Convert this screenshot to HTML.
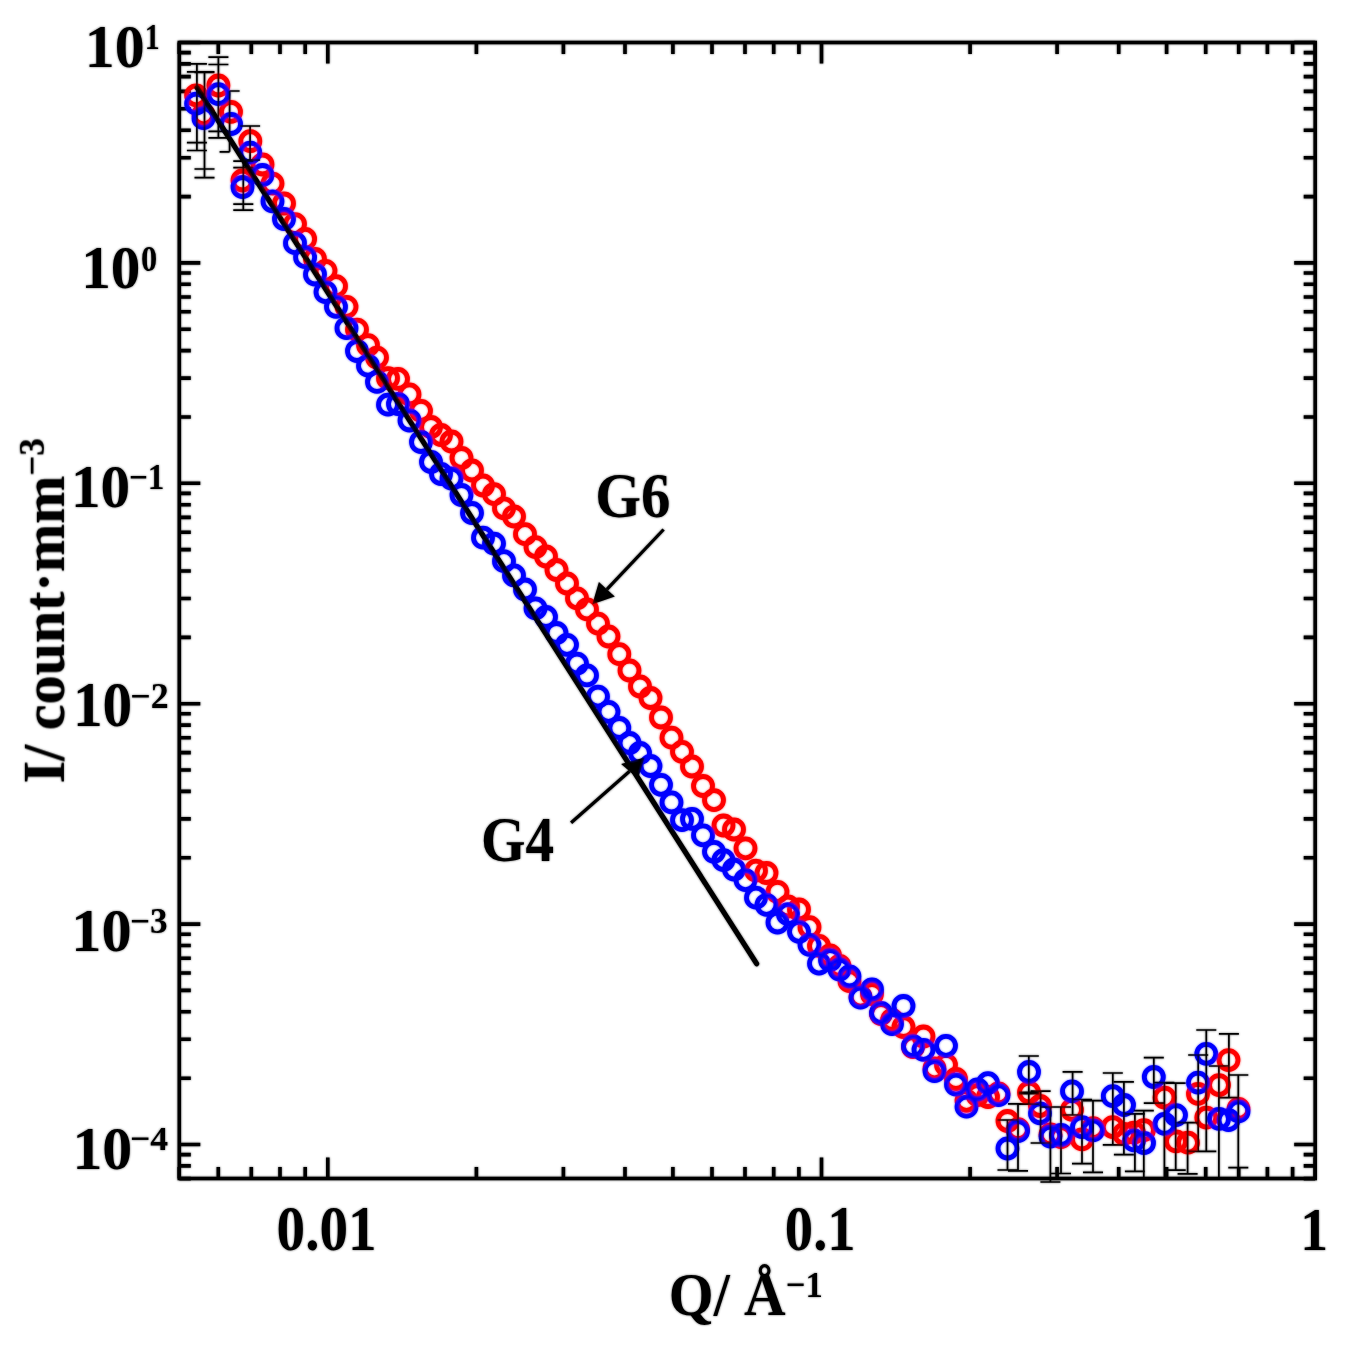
<!DOCTYPE html><html><head><meta charset="utf-8"><style>html,body{margin:0;padding:0;background:#fff;}svg{display:block;}text{font-family:"Liberation Serif",serif;font-weight:bold;}</style></head><body>
<div id="w">
<svg width="1365" height="1359" viewBox="0 0 1365 1359"><defs><filter id="bl" x="-1%" y="-1%" width="102%" height="102%"><feGaussianBlur stdDeviation="1"/></filter></defs><g id="all">
<path d="M179.2 1178.5V1167.0M179.2 42.5V54.0M218.3 1178.5V1167.0M218.3 42.5V54.0M251.3 1178.5V1167.0M251.3 42.5V54.0M280.0 1178.5V1167.0M280.0 42.5V54.0M305.2 1178.5V1167.0M305.2 42.5V54.0M327.8 1178.5V1157.5M327.8 42.5V63.5M476.4 1178.5V1167.0M476.4 42.5V54.0M563.4 1178.5V1167.0M563.4 42.5V54.0M625.0 1178.5V1167.0M625.0 42.5V54.0M672.9 1178.5V1167.0M672.9 42.5V54.0M712.0 1178.5V1167.0M712.0 42.5V54.0M745.0 1178.5V1167.0M745.0 42.5V54.0M773.7 1178.5V1167.0M773.7 42.5V54.0M798.9 1178.5V1167.0M798.9 42.5V54.0M821.5 1178.5V1157.5M821.5 42.5V63.5M970.1 1178.5V1167.0M970.1 42.5V54.0M1057.1 1178.5V1167.0M1057.1 42.5V54.0M1118.7 1178.5V1167.0M1118.7 42.5V54.0M1166.6 1178.5V1167.0M1166.6 42.5V54.0M1205.7 1178.5V1167.0M1205.7 42.5V54.0M1238.7 1178.5V1167.0M1238.7 42.5V54.0M1267.4 1178.5V1167.0M1267.4 42.5V54.0M1292.6 1178.5V1167.0M1292.6 42.5V54.0M1315.2 1178.5V1157.5M1315.2 42.5V63.5M179.3 1178.6H190.8M1315.2 1178.6H1303.7M179.3 1165.9H190.8M1315.2 1165.9H1303.7M179.3 1154.6H190.8M1315.2 1154.6H1303.7M179.3 1144.5H200.3M1315.2 1144.5H1294.2M179.3 1078.2H190.8M1315.2 1078.2H1303.7M179.3 1039.3H190.8M1315.2 1039.3H1303.7M179.3 1011.8H190.8M1315.2 1011.8H1303.7M179.3 990.4H190.8M1315.2 990.4H1303.7M179.3 973.0H190.8M1315.2 973.0H1303.7M179.3 958.2H190.8M1315.2 958.2H1303.7M179.3 945.5H190.8M1315.2 945.5H1303.7M179.3 934.2H190.8M1315.2 934.2H1303.7M179.3 924.1H200.3M1315.2 924.1H1294.2M179.3 857.8H190.8M1315.2 857.8H1303.7M179.3 818.9H190.8M1315.2 818.9H1303.7M179.3 791.4H190.8M1315.2 791.4H1303.7M179.3 770.0H190.8M1315.2 770.0H1303.7M179.3 752.6H190.8M1315.2 752.6H1303.7M179.3 737.8H190.8M1315.2 737.8H1303.7M179.3 725.1H190.8M1315.2 725.1H1303.7M179.3 713.8H190.8M1315.2 713.8H1303.7M179.3 703.7H200.3M1315.2 703.7H1294.2M179.3 637.4H190.8M1315.2 637.4H1303.7M179.3 598.5H190.8M1315.2 598.5H1303.7M179.3 571.0H190.8M1315.2 571.0H1303.7M179.3 549.6H190.8M1315.2 549.6H1303.7M179.3 532.2H190.8M1315.2 532.2H1303.7M179.3 517.4H190.8M1315.2 517.4H1303.7M179.3 504.7H190.8M1315.2 504.7H1303.7M179.3 493.4H190.8M1315.2 493.4H1303.7M179.3 483.3H200.3M1315.2 483.3H1294.2M179.3 417.0H190.8M1315.2 417.0H1303.7M179.3 378.1H190.8M1315.2 378.1H1303.7M179.3 350.6H190.8M1315.2 350.6H1303.7M179.3 329.2H190.8M1315.2 329.2H1303.7M179.3 311.8H190.8M1315.2 311.8H1303.7M179.3 297.0H190.8M1315.2 297.0H1303.7M179.3 284.3H190.8M1315.2 284.3H1303.7M179.3 273.0H190.8M1315.2 273.0H1303.7M179.3 262.9H200.3M1315.2 262.9H1294.2M179.3 196.6H190.8M1315.2 196.6H1303.7M179.3 157.7H190.8M1315.2 157.7H1303.7M179.3 130.2H190.8M1315.2 130.2H1303.7M179.3 108.8H190.8M1315.2 108.8H1303.7M179.3 91.4H190.8M1315.2 91.4H1303.7M179.3 76.6H190.8M1315.2 76.6H1303.7M179.3 63.9H190.8M1315.2 63.9H1303.7M179.3 52.6H190.8M1315.2 52.6H1303.7M179.3 42.5H200.3M1315.2 42.5H1294.2" stroke="#000" stroke-width="3.6" fill="none"/>
<g fill="none" stroke="#ff0000" stroke-width="4.8"><circle cx="196.1" cy="95.3" r="9.5"/><circle cx="203.5" cy="114.3" r="9.5"/><circle cx="218.4" cy="85.5" r="9.5"/><circle cx="231.0" cy="111.8" r="9.5"/><circle cx="242.5" cy="180.5" r="9.5"/><circle cx="250.3" cy="141.2" r="9.5"/><circle cx="262.5" cy="164.5" r="9.5"/><circle cx="272.5" cy="183.6" r="9.5"/><circle cx="284.0" cy="203.5" r="9.5"/><circle cx="295.0" cy="224.1" r="9.5"/><circle cx="305.1" cy="238.9" r="9.5"/><circle cx="315.0" cy="259.0" r="9.5"/><circle cx="325.5" cy="270.8" r="9.5"/><circle cx="336.0" cy="286.2" r="9.5"/><circle cx="346.5" cy="306.8" r="9.5"/><circle cx="357.0" cy="329.6" r="9.5"/><circle cx="368.0" cy="345.1" r="9.5"/><circle cx="377.0" cy="357.6" r="9.5"/><circle cx="388.0" cy="378.2" r="9.5"/><circle cx="398.0" cy="378.9" r="9.5"/><circle cx="409.5" cy="394.4" r="9.5"/><circle cx="421.0" cy="410.8" r="9.5"/><circle cx="431.0" cy="427.0" r="9.5"/><circle cx="441.0" cy="435.0" r="9.5"/><circle cx="451.5" cy="441.5" r="9.5"/><circle cx="461.5" cy="458.0" r="9.5"/><circle cx="472.0" cy="470.5" r="9.5"/><circle cx="483.0" cy="485.5" r="9.5"/><circle cx="494.0" cy="494.1" r="9.5"/><circle cx="504.0" cy="508.3" r="9.5"/><circle cx="514.0" cy="516.5" r="9.5"/><circle cx="525.0" cy="534.2" r="9.5"/><circle cx="535.5" cy="547.1" r="9.5"/><circle cx="546.0" cy="556.5" r="9.5"/><circle cx="556.5" cy="570.0" r="9.5"/><circle cx="567.0" cy="583.5" r="9.5"/><circle cx="577.0" cy="598.3" r="9.5"/><circle cx="587.0" cy="609.4" r="9.5"/><circle cx="598.0" cy="623.6" r="9.5"/><circle cx="608.5" cy="636.5" r="9.5"/><circle cx="619.3" cy="654.2" r="9.5"/><circle cx="629.5" cy="670.5" r="9.5"/><circle cx="640.0" cy="686.5" r="9.5"/><circle cx="650.5" cy="698.0" r="9.5"/><circle cx="661.0" cy="717.5" r="9.5"/><circle cx="671.5" cy="737.7" r="9.5"/><circle cx="682.0" cy="751.8" r="9.5"/><circle cx="692.0" cy="766.5" r="9.5"/><circle cx="703.0" cy="786.0" r="9.5"/><circle cx="714.0" cy="800.1" r="9.5"/><circle cx="723.5" cy="825.5" r="9.5"/><circle cx="734.0" cy="829.5" r="9.5"/><circle cx="745.5" cy="848.3" r="9.5"/><circle cx="756.0" cy="870.7" r="9.5"/><circle cx="766.5" cy="873.0" r="9.5"/><circle cx="777.5" cy="891.8" r="9.5"/><circle cx="788.0" cy="906.5" r="9.5"/><circle cx="799.0" cy="909.5" r="9.5"/><circle cx="809.5" cy="927.2" r="9.5"/><circle cx="819.0" cy="945.9" r="9.5"/><circle cx="830.0" cy="955.3" r="9.5"/><circle cx="839.5" cy="965.9" r="9.5"/><circle cx="849.5" cy="981.2" r="9.5"/><circle cx="860.5" cy="996.6" r="9.5"/><circle cx="872.0" cy="994.0" r="9.5"/><circle cx="881.0" cy="1014.0" r="9.5"/><circle cx="892.0" cy="1020.0" r="9.5"/><circle cx="903.5" cy="1027.0" r="9.5"/><circle cx="913.0" cy="1047.1" r="9.5"/><circle cx="923.5" cy="1036.5" r="9.5"/><circle cx="934.5" cy="1068.3" r="9.5"/><circle cx="946.0" cy="1064.8" r="9.5"/><circle cx="956.0" cy="1079.0" r="9.5"/><circle cx="966.5" cy="1100.8" r="9.5"/><circle cx="977.5" cy="1095.0" r="9.5"/><circle cx="988.0" cy="1097.0" r="9.5"/><circle cx="998.5" cy="1093.5" r="9.5"/><circle cx="1007.5" cy="1121.0" r="9.5"/><circle cx="1018.0" cy="1129.2" r="9.5"/><circle cx="1029.0" cy="1092.5" r="9.5"/><circle cx="1040.0" cy="1106.0" r="9.5"/><circle cx="1050.5" cy="1134.5" r="9.5"/><circle cx="1061.0" cy="1137.0" r="9.5"/><circle cx="1072.0" cy="1109.8" r="9.5"/><circle cx="1082.0" cy="1139.4" r="9.5"/><circle cx="1093.0" cy="1128.2" r="9.5"/><circle cx="1112.8" cy="1127.1" r="9.5"/><circle cx="1124.0" cy="1133.8" r="9.5"/><circle cx="1134.0" cy="1132.6" r="9.5"/><circle cx="1144.0" cy="1130.1" r="9.5"/><circle cx="1164.5" cy="1097.6" r="9.5"/><circle cx="1176.0" cy="1141.4" r="9.5"/><circle cx="1188.0" cy="1142.7" r="9.5"/><circle cx="1198.0" cy="1093.9" r="9.5"/><circle cx="1206.3" cy="1117.6" r="9.5"/><circle cx="1219.0" cy="1085.1" r="9.5"/><circle cx="1228.5" cy="1060.1" r="9.5"/><circle cx="1238.5" cy="1108.9" r="9.5"/></g><g fill="none" stroke="#0000ff" stroke-width="4.8"><circle cx="196.1" cy="103.6" r="9.5"/><circle cx="203.5" cy="118.2" r="9.5"/><circle cx="218.4" cy="94.2" r="9.5"/><circle cx="231.0" cy="124.0" r="9.5"/><circle cx="242.5" cy="187.0" r="9.5"/><circle cx="250.3" cy="152.6" r="9.5"/><circle cx="262.5" cy="175.0" r="9.5"/><circle cx="272.5" cy="201.3" r="9.5"/><circle cx="284.0" cy="219.0" r="9.5"/><circle cx="295.0" cy="243.2" r="9.5"/><circle cx="305.1" cy="257.2" r="9.5"/><circle cx="315.0" cy="274.5" r="9.5"/><circle cx="325.5" cy="292.1" r="9.5"/><circle cx="336.0" cy="306.8" r="9.5"/><circle cx="346.5" cy="328.2" r="9.5"/><circle cx="357.0" cy="351.0" r="9.5"/><circle cx="368.0" cy="365.7" r="9.5"/><circle cx="377.0" cy="381.9" r="9.5"/><circle cx="388.0" cy="404.7" r="9.5"/><circle cx="398.0" cy="404.0" r="9.5"/><circle cx="409.5" cy="420.5" r="9.5"/><circle cx="421.0" cy="442.0" r="9.5"/><circle cx="431.0" cy="462.0" r="9.5"/><circle cx="441.0" cy="474.0" r="9.5"/><circle cx="451.5" cy="478.5" r="9.5"/><circle cx="461.5" cy="495.0" r="9.5"/><circle cx="472.0" cy="513.0" r="9.5"/><circle cx="483.0" cy="537.7" r="9.5"/><circle cx="494.0" cy="543.6" r="9.5"/><circle cx="504.0" cy="561.2" r="9.5"/><circle cx="514.0" cy="575.4" r="9.5"/><circle cx="525.0" cy="589.5" r="9.5"/><circle cx="535.5" cy="608.3" r="9.5"/><circle cx="546.0" cy="617.0" r="9.5"/><circle cx="556.5" cy="633.0" r="9.5"/><circle cx="567.0" cy="644.8" r="9.5"/><circle cx="577.0" cy="663.6" r="9.5"/><circle cx="587.0" cy="675.4" r="9.5"/><circle cx="598.0" cy="696.6" r="9.5"/><circle cx="608.5" cy="711.8" r="9.5"/><circle cx="619.3" cy="728.0" r="9.5"/><circle cx="629.5" cy="743.0" r="9.5"/><circle cx="640.0" cy="753.0" r="9.5"/><circle cx="650.5" cy="766.0" r="9.5"/><circle cx="661.0" cy="784.8" r="9.5"/><circle cx="671.5" cy="802.4" r="9.5"/><circle cx="682.0" cy="820.1" r="9.5"/><circle cx="692.0" cy="818.9" r="9.5"/><circle cx="703.0" cy="835.3" r="9.5"/><circle cx="714.0" cy="851.8" r="9.5"/><circle cx="723.5" cy="860.1" r="9.5"/><circle cx="734.0" cy="869.5" r="9.5"/><circle cx="745.5" cy="880.1" r="9.5"/><circle cx="756.0" cy="897.7" r="9.5"/><circle cx="766.5" cy="904.8" r="9.5"/><circle cx="777.5" cy="922.5" r="9.5"/><circle cx="788.0" cy="914.2" r="9.5"/><circle cx="799.0" cy="931.8" r="9.5"/><circle cx="809.5" cy="944.8" r="9.5"/><circle cx="819.0" cy="963.6" r="9.5"/><circle cx="830.0" cy="960.1" r="9.5"/><circle cx="839.5" cy="969.5" r="9.5"/><circle cx="849.5" cy="976.5" r="9.5"/><circle cx="860.5" cy="997.7" r="9.5"/><circle cx="872.0" cy="989.5" r="9.5"/><circle cx="881.0" cy="1013.0" r="9.5"/><circle cx="892.0" cy="1024.0" r="9.5"/><circle cx="903.5" cy="1006.0" r="9.5"/><circle cx="913.0" cy="1046.2" r="9.5"/><circle cx="923.5" cy="1049.8" r="9.5"/><circle cx="934.5" cy="1071.0" r="9.5"/><circle cx="946.0" cy="1045.8" r="9.5"/><circle cx="956.0" cy="1084.5" r="9.5"/><circle cx="966.5" cy="1106.7" r="9.5"/><circle cx="977.5" cy="1089.5" r="9.5"/><circle cx="988.0" cy="1083.2" r="9.5"/><circle cx="998.5" cy="1095.2" r="9.5"/><circle cx="1007.5" cy="1148.5" r="9.5"/><circle cx="1018.0" cy="1131.0" r="9.5"/><circle cx="1029.0" cy="1072.0" r="9.5"/><circle cx="1040.0" cy="1113.3" r="9.5"/><circle cx="1050.5" cy="1136.5" r="9.5"/><circle cx="1061.0" cy="1135.0" r="9.5"/><circle cx="1072.0" cy="1091.3" r="9.5"/><circle cx="1082.0" cy="1127.1" r="9.5"/><circle cx="1093.0" cy="1130.4" r="9.5"/><circle cx="1112.8" cy="1096.2" r="9.5"/><circle cx="1124.0" cy="1105.0" r="9.5"/><circle cx="1134.0" cy="1140.4" r="9.5"/><circle cx="1144.0" cy="1143.0" r="9.5"/><circle cx="1153.8" cy="1077.0" r="9.5"/><circle cx="1164.5" cy="1123.9" r="9.5"/><circle cx="1176.0" cy="1115.1" r="9.5"/><circle cx="1198.0" cy="1082.6" r="9.5"/><circle cx="1206.3" cy="1053.8" r="9.5"/><circle cx="1219.0" cy="1118.9" r="9.5"/><circle cx="1228.5" cy="1120.1" r="9.5"/><circle cx="1238.5" cy="1111.4" r="9.5"/></g><path d="M196.9 63.8V150.5M186.9 63.8h20M186.9 150.5h20M196.9 71.8V142.6M186.9 71.8h20M186.9 142.6h20M204.5 71.8V177.6M194.5 71.8h20M194.5 177.6h20M204.5 72.5V169.0M194.5 72.5h20M194.5 169.0h20M218.4 57.2V137.9M208.4 57.2h20M208.4 137.9h20M218.4 64.5V131.3M208.4 64.5h20M208.4 131.3h20M250.1 126.0V160.0M240.1 126.0h20M240.1 160.0h20M243.3 161.1V210.1M233.3 161.1h20M233.3 210.1h20M243.3 167.7V204.1M233.3 167.7h20M233.3 204.1h20M1028.8 1056.0V1093.6M1018.8 1056.0h20M1018.8 1093.6h20M1028.8 1092.4V1104.2M1018.8 1092.4h20M1018.8 1104.2h20M1018.0 1103.8V1170.8M1008.0 1103.8h20M1008.0 1170.8h20M1040.6 1091.2V1143.0M1030.6 1091.2h20M1030.6 1143.0h20M1050.4 1107.0V1182.0M1040.4 1107.0h20M1040.4 1182.0h20M1061.0 1107.0V1173.5M1051.0 1107.0h20M1051.0 1173.5h20M1072.6 1071.9V1115.0M1062.6 1071.9h20M1062.6 1115.0h20M1082.0 1099.5V1163.6M1072.0 1099.5h20M1072.0 1163.6h20M1093.0 1100.6V1172.4M1083.0 1100.6h20M1083.0 1172.4h20M1112.8 1073.0V1144.8M1102.8 1073.0h20M1102.8 1144.8h20M1123.9 1081.9V1154.7M1113.9 1081.9h20M1113.9 1154.7h20M1134.9 1113.9V1171.3M1124.9 1113.9h20M1124.9 1171.3h20M1143.8 1110.6V1178.0M1133.8 1110.6h20M1133.8 1178.0h20M1153.8 1057.6V1103.2M1143.8 1057.6h20M1143.8 1103.2h20M1164.4 1082.6V1178.0M1154.4 1082.6h20M1154.4 1178.0h20M1175.7 1083.2V1170.2M1165.7 1083.2h20M1165.7 1170.2h20M1187.6 1122.6V1173.9M1177.6 1122.6h20M1177.6 1173.9h20M1198.2 1055.0V1151.4M1188.2 1055.0h20M1188.2 1151.4h20M1206.3 1030.0V1151.4M1196.3 1030.0h20M1196.3 1151.4h20M1218.9 1066.0V1178.0M1208.9 1066.0h20M1208.9 1178.0h20M1228.9 1033.8V1097.6M1218.9 1033.8h20M1218.9 1097.6h20M1238.3 1075.0V1167.7M1228.3 1075.0h20M1228.3 1167.7h20M1007.5 1120V1170M997.5 1120h20M997.5 1170h20M229.6 91.0V151.8M229.6 91.0h10M219.6 151.8h10" stroke="#000" stroke-width="1.7" fill="none"/>
<rect x="179.3" y="42.5" width="1135.9" height="1136.0" fill="none" stroke="#000" stroke-width="3.6"/>
<g opacity="0.999">
<g transform="translate(84.71 66.90) scale(0.9981 1.0385)"><text x="0" y="0" font-size="60">10</text></g>
<g transform="translate(144.71 49.00) scale(0.8308 1.0042)"><text x="0" y="0" font-size="36">1</text></g>
<g transform="translate(81.27 288.20) scale(0.9868 1.0128)"><text x="0" y="0" font-size="60">10</text></g>
<g transform="translate(141.10 270.80) scale(0.9000 0.9958)"><text x="0" y="0" font-size="36">0</text></g>
<g transform="translate(70.97 506.70) scale(0.9868 1.0256)"><text x="0" y="0" font-size="60">10</text></g>
<g transform="translate(128.95 488.70) scale(0.9229 0.9833)"><text x="0" y="0" font-size="36">−1</text></g>
<g transform="translate(72.96 726.20) scale(0.9887 1.0538)"><text x="0" y="0" font-size="60">10</text></g>
<g transform="translate(130.31 707.70) scale(0.9971 0.9833)"><text x="0" y="0" font-size="36">−2</text></g>
<g transform="translate(71.37 950.80) scale(1.0057 1.0256)"><text x="0" y="0" font-size="60">10</text></g>
<g transform="translate(130.05 933.30) scale(0.9771 1.0042)"><text x="0" y="0" font-size="36">−3</text></g>
<g transform="translate(72.41 1168.70) scale(0.9981 1.0128)"><text x="0" y="0" font-size="60">10</text></g>
<g transform="translate(130.02 1150.30) scale(0.9917 0.9625)"><text x="0" y="0" font-size="36">−4</text></g>
<g transform="translate(276.59 1250.30) scale(0.9530 1.0538)"><text x="0" y="0" font-size="60">0.01</text></g>
<g transform="translate(784.81 1250.30) scale(0.9443 1.0538)"><text x="0" y="0" font-size="60">0.1</text></g>
<g transform="translate(1300.36 1249.60) scale(0.9273 1.0359)"><text x="0" y="0" font-size="60">1</text></g>
<g transform="translate(595.36 516.50) scale(0.9806 1.0564)"><text x="0" y="0" font-size="60">G6</text></g>
<g transform="translate(481.04 860.90) scale(0.9534 1.0513)"><text x="0" y="0" font-size="60">G4</text></g>
<g transform="translate(63.90 783.43) scale(1.0000 0.9671)"><g transform="rotate(-90)"><text x="0" y="0" font-size="60">I/ count·mm<tspan font-size="36" dy="-20">−3</tspan></text></g></g>
<g transform="translate(668.82 1314.91) scale(0.9613 1.0103)"><text x="0" y="0" font-size="60">Q/ Å<tspan font-size="36" dy="-18">−1</tspan></text></g>
</g>
<path d="M197 87.7L756.6 963.7" stroke="#000" stroke-width="5.2" stroke-linecap="round" fill="none"/>
<path d="M663.6 529.5L606.9 589.3" stroke="#000" stroke-width="3.2" fill="none"/>
<path d="M592.4 604.3L598.9 581.9L614.8 596.6Z" fill="#000"/>
<path d="M571.1 822.8L629.6 771.3" stroke="#000" stroke-width="3.2" fill="none"/>
<path d="M644.5 757.5L621.1 764L638.1 778.6Z" fill="#000"/>
</g><use href="#all" filter="url(#bl)" opacity="0.6"/></svg></div></body></html>
